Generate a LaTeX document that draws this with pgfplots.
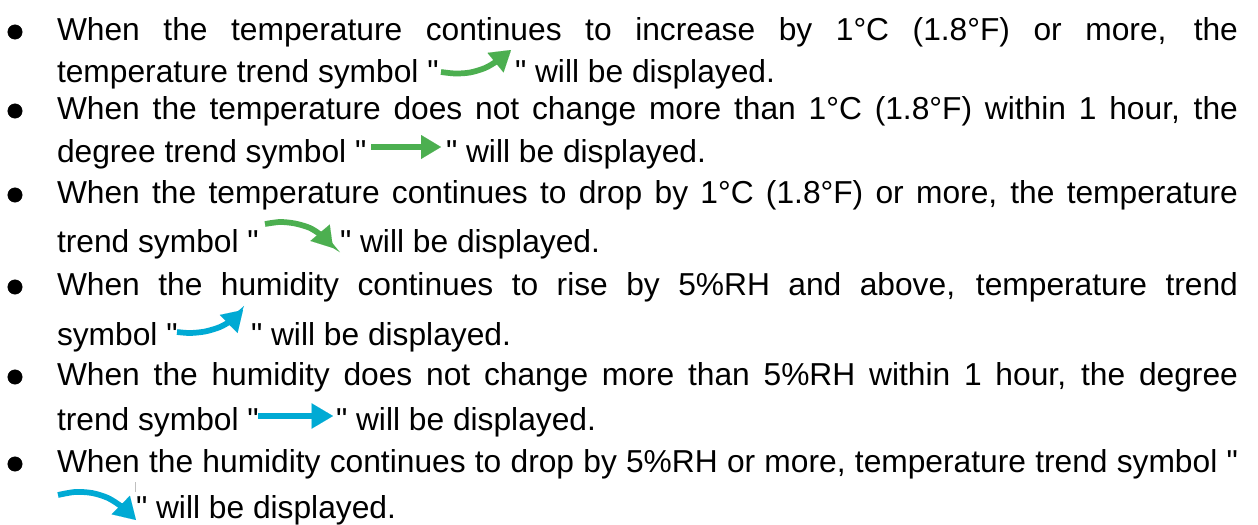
\documentclass[border=0pt]{standalone}
\usepackage{fontspec}
\setmainfont{Liberation Sans}[Ligatures=TeXOff]
\usepackage{pgfplots}
\pgfplotsset{compat=1.18}
\usetikzlibrary{arrows.meta}
\definecolor{tgreen}{RGB}{76,175,80}
\definecolor{hblue}{RGB}{0,170,212}
\newcommand{\J}[1]{\makebox[885.75pt][s]{#1}}
\newcommand{\q}{\char34\relax}
\tikzset{tx/.style={font=\fontsize{23.8}{28}\selectfont, inner sep=0pt, outer sep=0pt, anchor=base west},
  hd/.style 2 args={-{Triangle[length=#1, width=#2, line width=0.01pt]}}}
\begin{document}
\begin{tikzpicture}
\begin{axis}[
  width=943.5pt, height=393.75pt, scale only axis,
  xmin=0, xmax=1258, ymin=0, ymax=525, y dir=reverse,
  hide axis, clip=false,
]
% white page
\addplot[fill=white, draw=none, forget plot] coordinates {(0,0) (1258,0) (1258,525) (0,525)};
% bullets
\addplot[only marks, mark=*, mark size=5.4pt, black] coordinates {(15,32) (15,111) (15,195) (15,287) (15,377) (15,464)};
% text lines
\node[tx] at (axis cs:57,40) {\J{When the temperature continues to increase by 1°C (1.8°F) or more, the}};
\node[tx] at (axis cs:57,82) {temperature trend symbol \q};
\node[tx] at (axis cs:515,82) {\q{} will be displayed.};
\node[tx] at (axis cs:57,119) {\J{When the temperature does not change more than 1°C (1.8°F) within 1 hour, the}};
\node[tx] at (axis cs:57,162) {degree trend symbol \q};
\node[tx] at (axis cs:446,162) {\q{} will be displayed.};
\node[tx] at (axis cs:57,203) {\J{When the temperature continues to drop by 1°C (1.8°F) or more, the temperature}};
\node[tx] at (axis cs:57,252) {trend symbol \q};
\node[tx] at (axis cs:340,252) {\q{} will be displayed.};
\node[tx] at (axis cs:57,295) {\J{When the humidity continues to rise by 5\%RH and above, temperature trend}};
\node[tx] at (axis cs:57,345) {symbol \q};
\node[tx] at (axis cs:251,345) {\q{} will be displayed.};
\node[tx] at (axis cs:57,385) {\J{When the humidity does not change more than 5\%RH within 1 hour, the degree}};
\node[tx] at (axis cs:57,430) {trend symbol \q};
\node[tx] at (axis cs:336,430) {\q{} will be displayed.};
\node[tx] at (axis cs:57,472) {\J{When the humidity continues to drop by 5\%RH or more, temperature trend symbol \q}};
\node[tx] at (axis cs:136,518) {\q{} will be displayed.};
% trend arrows
\addplot[tgreen, line width=4.3pt, smooth, hd={15pt}{19pt}] coordinates {(441,72) (455,73.5) (470,72.5) (485,68) (497,61) (511,50)};
\addplot[tgreen, line width=4pt, hd={15pt}{18pt}] coordinates {(371,147) (441,147)};
\addplot[tgreen, line width=4.3pt, smooth, hd={15pt}{19pt}] coordinates {(265,224) (280,222) (295,223.5) (310,228) (322,236) (333,248)};
\addplot[hblue, line width=4.3pt, smooth, hd={15pt}{19pt}] coordinates {(177,332) (190,333) (205,331.5) (220,327) (232,320) (243,310)};
\addplot[hblue, line width=4pt, hd={16pt}{19pt}] coordinates {(258,416) (333,416)};
\addplot[hblue, line width=4.3pt, smooth, hd={16pt}{19.5pt}] coordinates {(58,495) (75,492) (92,493) (108,498) (122,507) (136,520)};
\addplot[gray!50, line width=0.6pt] coordinates {(135,482) (135,492)};
\end{axis}
\end{tikzpicture}
\end{document}
